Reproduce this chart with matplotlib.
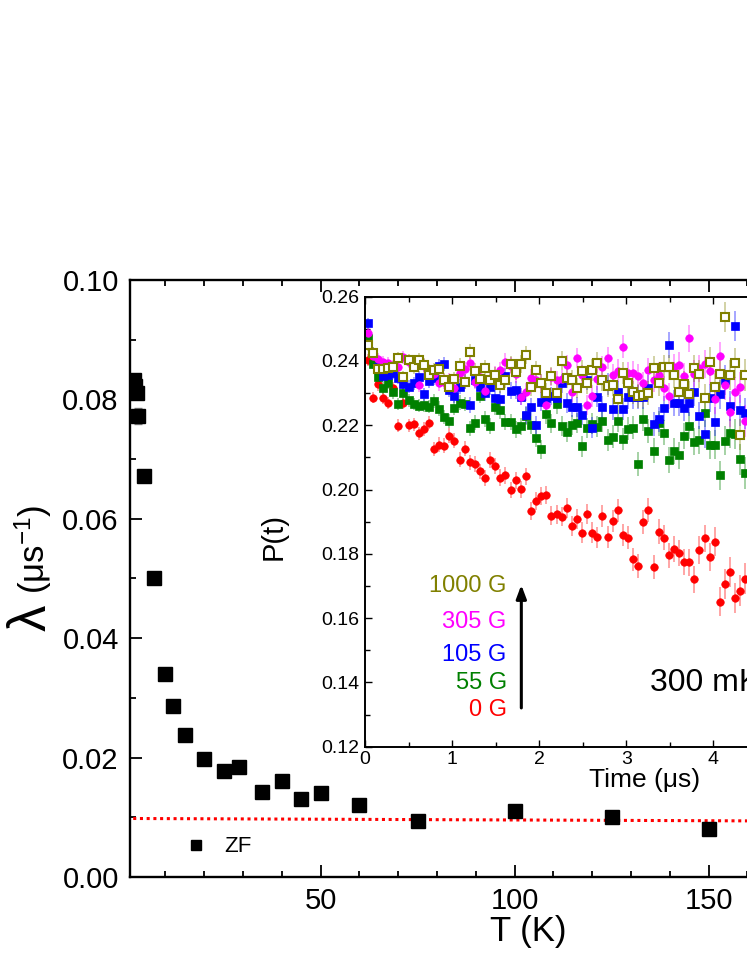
import numpy as np
import matplotlib
matplotlib.use("Agg")
from matplotlib import pyplot as plt
from matplotlib.colors import to_rgba
from matplotlib.lines import Line2D
from matplotlib.ticker import MultipleLocator, FixedLocator, FormatStrFormatter

plt.rcParams['font.family'] = ['Liberation Sans', 'DejaVu Sans']
plt.rcParams['mathtext.fontset'] = 'custom'
plt.rcParams['mathtext.rm'] = 'Liberation Sans'
plt.rcParams['mathtext.it'] = 'Liberation Sans:italic'

# main panel: zero-field relaxation rate vs temperature
temp_K = [2.0, 2.3, 2.6, 3.0, 4.6, 7.0, 10, 12, 15, 20, 25, 29, 35, 40, 45, 50,
          60, 75, 100, 125, 150]
lam = [0.0833, 0.0822, 0.0811, 0.0772, 0.0672, 0.0500, 0.0340, 0.0286, 0.0238,
       0.0198, 0.0177, 0.0184, 0.0143, 0.0160, 0.0130, 0.0141, 0.0121, 0.0094,
       0.0111, 0.0101, 0.0081]
lam_err = [0.0008, 0.0008, 0.0008, 0.0013, 0.0008, 0.0006, 0.0005, 0.0005, 0.0005,
           0.0005, 0.0005, 0.0005, 0.0005, 0.0005, 0.0005, 0.0005, 0.0005, 0.0005,
           0.0005, 0.0005, 0.0005]
fit_T = [0.0, 210.0]
fit_lam = [0.0098, 0.00927]
T_ticks = [50, 100, 150]

# inset: muon polarisation at 300 mK, time bins of ~0.0586 us
time_us = np.round(0.031 + 0.0586 * np.arange(75), 3)
p_0G = [0.2403, 0.2286, 0.2327, 0.2286, 0.2270, 0.2315, 0.2198, 0.2270, 0.2200, 0.2203,
        0.2175, 0.2189, 0.2208, 0.2126, 0.2140, 0.2137, 0.2168, 0.2152, 0.2093, 0.2127,
        0.2085, 0.2080, 0.2057, 0.2037, 0.2091, 0.2074, 0.2037, 0.2044, 0.1999, 0.2029,
        0.2001, 0.2041, 0.1932, 0.1963, 0.1980, 0.1983, 0.1919, 0.1923, 0.1916, 0.1943,
        0.1887, 0.1907, 0.1866, 0.1924, 0.1866, 0.1852, 0.1917, 0.1852, 0.1902, 0.1935,
        0.1859, 0.1850, 0.1783, 0.1762, 0.1898, 0.1936, 0.1759, 0.1869, 0.1850, 0.1795,
        0.1815, 0.1802, 0.1775, 0.1774, 0.1721, 0.1812, 0.1848, 0.1790, 0.1838, 0.1651,
        0.1707, 0.1744, 0.1663, 0.1685, 0.1723]
p_55G = [0.2473, 0.2392, 0.2351, 0.2315, 0.2332, 0.2302, 0.2266, 0.2299, 0.2278, 0.2266,
         0.2261, 0.2262, 0.2258, 0.2275, 0.2252, 0.2226, 0.2213, 0.2254, 0.2270, 0.2266,
         0.2190, 0.2208, 0.2292, 0.2220, 0.2198, 0.2258, 0.2246, 0.2210, 0.2210, 0.2187,
         0.2197, 0.2229, 0.2201, 0.2160, 0.2125, 0.2234, 0.2206, 0.2266, 0.2198, 0.2180,
         0.2201, 0.2208, 0.2134, 0.2191, 0.2205, 0.2196, 0.2214, 0.2154, 0.2165, 0.2214,
         0.2157, 0.2189, 0.2193, 0.2080, 0.2219, 0.2182, 0.2121, 0.2206, 0.2177, 0.2092,
         0.2121, 0.2106, 0.2167, 0.2199, 0.2148, 0.2154, 0.2239, 0.2138, 0.2140, 0.2045,
         0.2152, 0.2175, 0.2173, 0.2094, 0.2051]
p_105G = [0.2517, 0.2424, 0.2380, 0.2353, 0.2356, 0.2362, 0.2348, 0.2327, 0.2320, 0.2330,
          0.2349, 0.2296, 0.2338, 0.2346, 0.2385, 0.2391, 0.2310, 0.2291, 0.2320, 0.2336,
          0.2263, 0.2341, 0.2318, 0.2301, 0.2318, 0.2284, 0.2282, 0.2353, 0.2308, 0.2310,
          0.2289, 0.2232, 0.2258, 0.2201, 0.2273, 0.2286, 0.2291, 0.2284, 0.2330, 0.2270,
          0.2258, 0.2258, 0.2232, 0.2341, 0.2192, 0.2289, 0.2258, 0.2328, 0.2250, 0.2304,
          0.2250, 0.2287, 0.2287, 0.2289, 0.2289, 0.2317, 0.2204, 0.2219, 0.2253, 0.2450,
          0.2270, 0.2270, 0.2253, 0.2270, 0.2302, 0.2230, 0.2173, 0.2284, 0.2211, 0.2297,
          0.2341, 0.2260, 0.2509, 0.2247, 0.2237]
p_305G = [0.2488, 0.2415, 0.2405, 0.2398, 0.2393, 0.2385, 0.2380, 0.2411, 0.2398, 0.2395,
          0.2326, 0.2385, 0.2370, 0.2360, 0.2330, 0.2336, 0.2341, 0.2315, 0.2363, 0.2374,
          0.2395, 0.2336, 0.2350, 0.2307, 0.2345, 0.2360, 0.2372, 0.2398, 0.2385, 0.2360,
          0.2289, 0.2303, 0.2346, 0.2341, 0.2329, 0.2263, 0.2350, 0.2340, 0.2343, 0.2388,
          0.2302, 0.2408, 0.2357, 0.2263, 0.2291, 0.2343, 0.2380, 0.2408, 0.2355, 0.2370,
          0.2445, 0.2362, 0.2364, 0.2353, 0.2330, 0.2372, 0.2340, 0.2357, 0.2315, 0.2291,
          0.2382, 0.2388, 0.2353, 0.2471, 0.2360, 0.2377, 0.2391, 0.2369, 0.2281, 0.2414,
          0.2325, 0.2242, 0.2302, 0.2318, 0.2214]
p_1000G = [0.2450, 0.2424, 0.2374, 0.2375, 0.2378, 0.2380, 0.2408, 0.2350, 0.2403, 0.2380,
           0.2403, 0.2387, 0.2356, 0.2372, 0.2374, 0.2341, 0.2318, 0.2344, 0.2385, 0.2336,
           0.2429, 0.2369, 0.2343, 0.2377, 0.2341, 0.2356, 0.2325, 0.2341, 0.2390, 0.2367,
           0.2391, 0.2419, 0.2318, 0.2372, 0.2330, 0.2301, 0.2353, 0.2299, 0.2401, 0.2346,
           0.2341, 0.2315, 0.2370, 0.2330, 0.2372, 0.2395, 0.2341, 0.2322, 0.2325, 0.2281,
           0.2362, 0.2330, 0.2302, 0.2291, 0.2294, 0.2300, 0.2377, 0.2330, 0.2380, 0.2380,
           0.2357, 0.2303, 0.2328, 0.2296, 0.2377, 0.2360, 0.2284, 0.2398, 0.2318, 0.2360,
           0.2536, 0.2357, 0.2393, 0.2170, 0.2357]
p_err = [0.0018, 0.0018, 0.0019, 0.0019, 0.0019, 0.0019, 0.0020, 0.0020, 0.0020, 0.0020,
         0.0021, 0.0021, 0.0021, 0.0022, 0.0022, 0.0022, 0.0022, 0.0023, 0.0023, 0.0023,
         0.0024, 0.0024, 0.0024, 0.0025, 0.0025, 0.0025, 0.0026, 0.0026, 0.0026, 0.0027,
         0.0027, 0.0027, 0.0028, 0.0028, 0.0029, 0.0029, 0.0029, 0.0030, 0.0030, 0.0031,
         0.0031, 0.0031, 0.0032, 0.0032, 0.0033, 0.0033, 0.0034, 0.0034, 0.0035, 0.0035,
         0.0035, 0.0036, 0.0036, 0.0037, 0.0037, 0.0038, 0.0038, 0.0039, 0.0039, 0.0040,
         0.0040, 0.0041, 0.0041, 0.0042, 0.0042, 0.0043, 0.0043, 0.0044, 0.0045, 0.0045,
         0.0046, 0.0046, 0.0047, 0.0048, 0.0049]
time_ticks = [0, 1, 2, 3, 4]

field_labels = ['0 G', '55 G', '105 G', '305 G', '1000 G']
field_colors = ['#ff0000', '#008000', '#0000ff', '#ff00ff', '#808000']
field_markers = ['o', 's', 's', 'o', 's']
field_data = [p_0G, p_55G, p_105G, p_305G, p_1000G]


def style_axis(ax, size, major, minor, width):
    ax.tick_params(which='both', direction='in', top=True, right=True,
                   labelsize=size, width=width)
    ax.tick_params(which='major', length=major)
    ax.tick_params(which='minor', length=minor)
    for s in ax.spines.values():
        s.set_linewidth(width + 0.4)


fig = plt.figure(figsize=(7.47, 9.67), dpi=100)

# main axes runs past the right edge of the picture, like the cropped original
ax = fig.add_axes([0.174, 0.0931, 1.0656, 0.6174])
ax.errorbar(temp_K, lam, yerr=lam_err, fmt='s', color='black', ms=9.5,
            ecolor='#808080', elinewidth=1, capsize=3, zorder=3)
ax.plot(fit_T, fit_lam, color='red', ls=(0, (1, 1.2)), lw=2.2, zorder=2)
ax.set_xlim(0.9, 206)
ax.set_ylim(0, 0.1)
ax.xaxis.set_major_locator(FixedLocator(T_ticks))
ax.xaxis.set_minor_locator(MultipleLocator(10))
ax.yaxis.set_major_locator(MultipleLocator(0.02))
ax.yaxis.set_minor_locator(MultipleLocator(0.01))
ax.yaxis.set_major_formatter(FormatStrFormatter('%.2f'))
style_axis(ax, 21, 8.5, 4.5, 1.3)
ax.tick_params(axis='x', pad=7)
ax.tick_params(axis='y', pad=8)
ax.set_xlabel('T (K)', fontsize=25, labelpad=0)

zf = Line2D([], [], ls='none', marker='s', color='black', ms=6.5)
ax.legend([zf], ['ZF'], loc='center left', bbox_to_anchor=(0.0686, 0.0503),
          frameon=False, handlelength=1, handletextpad=0.8, borderpad=0,
          borderaxespad=0, fontsize=16)

fig.text(0.043, 1 - 618 / 967, 'λ', rotation=90, fontsize=38,
         ha='center', va='center')
fig.text(0.045, 1 - 549 / 967, '(μs$^{-1}$)', rotation=90, fontsize=25,
         ha='center', va='center')

# inset
ax_in = fig.add_axes([0.4886, 0.2278, 0.7497, 0.4654])
ax_in.set_facecolor('white')
for y, lab, c, m in zip(field_data, field_labels, field_colors, field_markers):
    hollow = lab == '1000 G'
    ax_in.errorbar(time_us, y, yerr=p_err, fmt=m, ms=5.4,
                   mfc='white' if hollow else c, mec=c,
                   mew=1.5 if hollow else 0.5, color=c,
                   ecolor=to_rgba(c, 0.45), elinewidth=1.1, capsize=0)
ax_in.set_xlim(0, 6.43)
ax_in.set_ylim(0.12, 0.26)
ax_in.xaxis.set_major_locator(FixedLocator(time_ticks))
ax_in.xaxis.set_minor_locator(MultipleLocator(0.5))
ax_in.yaxis.set_major_locator(MultipleLocator(0.02))
ax_in.yaxis.set_minor_locator(MultipleLocator(0.01))
ax_in.yaxis.set_major_formatter(FormatStrFormatter('%.2f'))
style_axis(ax_in, 14, 5, 3.5, 1.0)
ax_in.tick_params(axis='x', pad=3)
ax_in.tick_params(axis='y', pad=4)
ax_in.set_xlabel('Time (μs)', fontsize=19, labelpad=0)
ax_in.set_ylabel('P(t)', fontsize=21)
ax_in.yaxis.set_label_coords(-0.139, 0.466)

label_y = [0.1314, 0.1397, 0.1485, 0.1589, 0.170]
for lab, c, yy in zip(field_labels, field_colors, label_y):
    ax_in.text(1.627, yy, lab, color=c, fontsize=17, ha='right', va='center')
ax_in.annotate('', xy=(1.795, 0.1712), xytext=(1.795, 0.1312),
               arrowprops=dict(arrowstyle='-|>,head_width=0.3,head_length=0.8',
                               color='black', lw=2.2))
ax_in.text(3.27, 0.1398, '300 mK', fontsize=23, ha='left', va='center')

fig.savefig('out.png', dpi=100)
